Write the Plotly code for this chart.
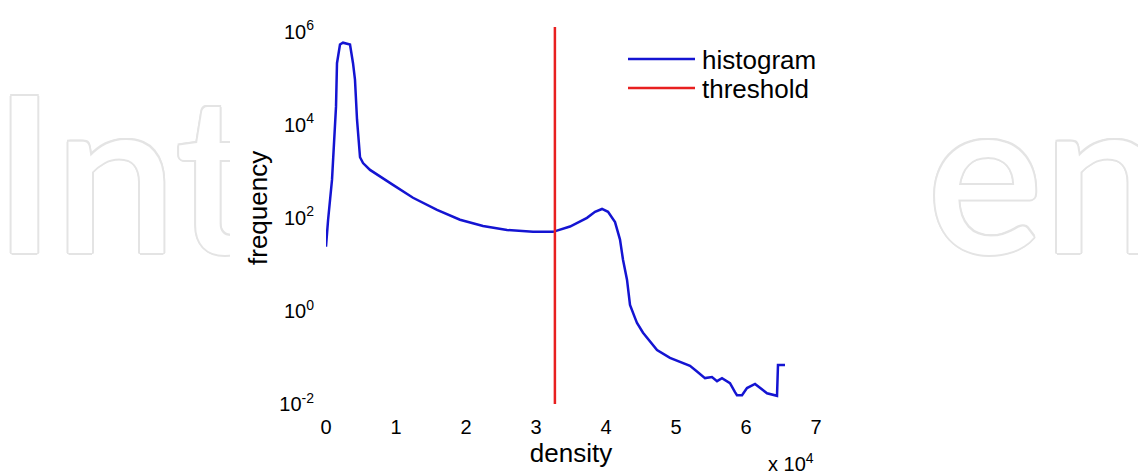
import plotly.graph_objects as go

# ---- data (density in units of 10^4) ----
density_x1e4 = [0.0, 0.03, 0.086, 0.114, 0.143, 0.157, 0.20, 0.243, 0.343, 0.386,
                0.414, 0.443, 0.486, 0.529, 0.629, 0.957, 1.243, 1.586, 1.914, 2.243,
                2.586, 2.957, 3.243, 3.486, 3.729, 3.843, 3.943, 4.029, 4.129, 4.2,
                4.243, 4.3, 4.343, 4.414, 4.443, 4.529, 4.729, 4.914, 5.1, 5.2,
                5.3, 5.414, 5.514, 5.586, 5.657, 5.771, 5.843, 5.871, 5.943, 6.014,
                6.129, 6.2, 6.3, 6.443, 6.457, 6.557]
frequency = [24, 91, 660, 4800, 24500, 2.1e5, 5.3e5, 5.8e5, 5.3e5, 2.1e5,
             9.3e4, 1.3e4, 2000, 1500, 1070, 510, 270, 148, 91, 67,
             55, 50, 50, 65, 100, 135, 155, 135, 81, 34,
             12.6, 4.7, 1.35, 0.71, 0.55, 0.34, 0.145, 0.098, 0.076, 0.066,
             0.05, 0.036, 0.038, 0.031, 0.036, 0.028, 0.018, 0.0155, 0.0155, 0.022,
             0.027, 0.022, 0.017, 0.015, 0.069, 0.069]
threshold_x1e4 = 3.27
threshold_y = [1e-2, 10 ** 6.1]

x_ticks = [0, 1, 2, 3, 4, 5, 6, 7]
y_ticks = [1e-2, 1e0, 1e2, 1e4, 1e6]
y_ticktext = ["10<sup>-2</sup>", "10<sup>0</sup>", "10<sup>2</sup>", "10<sup>4</sup>", "10<sup>6</sup>"]

watermark_left = "Int"
watermark_right = "en"

BLUE = "#1414d2"
RED = "#e82020"
FONT = "Liberation Sans, Arial, sans-serif"

W, H = 1138, 471
PLOT_L, PLOT_R, PLOT_T, PLOT_B = 326, 816, 27, 404
X_RANGE = [0, 7]
Y_RANGE = [-2, 6.1]
WM_LEFT_END = 230
WM_RIGHT_START = 925


def fx(pix):
    return pix / W


def fy(pix):
    return (H - pix) / H


fig = go.Figure()

# background watermark fragments on hidden, clipped subplots (drawn first, beneath the chart)
wm_shadow = ("2px 0 0 #e4e4e4, -2px 0 0 #e4e4e4, 0 2px 0 #e4e4e4, 0 -2px 0 #e4e4e4, "
             "1.5px 1.5px 0 #e4e4e4, -1.5px -1.5px 0 #e4e4e4, 1.5px -1.5px 0 #e4e4e4, -1.5px 1.5px 0 #e4e4e4")
wm_font = dict(family="Lato", size=218, color="white", weight=600, shadow=wm_shadow)
fig.add_trace(go.Scatter(
    x=[-7], y=[198], xaxis="x", yaxis="y",
    mode="text", text=[watermark_left], textposition="middle right", textfont=wm_font,
    cliponaxis=True, hoverinfo="skip", showlegend=False))
fig.add_trace(go.Scatter(
    x=[927], y=[198], xaxis="x2", yaxis="y2",
    mode="text", text=[watermark_right], textposition="middle right", textfont=wm_font,
    cliponaxis=True, hoverinfo="skip", showlegend=False))

fig.add_trace(go.Scatter(x=density_x1e4, y=frequency, mode="lines", xaxis="x3", yaxis="y3",
                         line=dict(color=BLUE, width=2.5), name="histogram",
                         showlegend=False))
fig.add_trace(go.Scatter(x=[threshold_x1e4, threshold_x1e4], y=threshold_y, mode="lines",
                         xaxis="x3", yaxis="y3",
                         line=dict(color=RED, width=2.5), name="threshold",
                         showlegend=False))

shapes = [
    dict(type="line", xref="paper", yref="paper", x0=fx(628), x1=fx(695), y0=fy(59), y1=fy(59),
         line=dict(color=BLUE, width=2.5)),
    dict(type="line", xref="paper", yref="paper", x0=fx(628), x1=fx(695), y0=fy(88), y1=fy(88),
         line=dict(color=RED, width=2.5)),
]

annotations = [
    dict(text="histogram", xref="paper", yref="paper", x=fx(700), y=fy(60), xanchor="left", yanchor="middle",
         showarrow=False, font=dict(family=FONT, size=26, color="black")),
    dict(text="threshold", xref="paper", yref="paper", x=fx(700), y=fy(89), xanchor="left", yanchor="middle",
         showarrow=False, font=dict(family=FONT, size=26, color="black")),
    dict(text="x 10<sup>4</sup>", xref="paper", yref="paper", x=fx(766), y=fy(462), xanchor="left", yanchor="middle",
         showarrow=False, font=dict(family=FONT, size=20, color="black")),
    dict(text="frequency", xref="paper", yref="paper", x=fx(258), y=fy(208), xanchor="center", yanchor="middle",
         textangle=-90, showarrow=False, font=dict(family=FONT, size=26, color="black")),
]

hidden = dict(visible=False, fixedrange=True, automargin=False)

fig.update_layout(
    width=W, height=H,
    margin=dict(l=0, r=0, t=0, b=0, pad=0, autoexpand=False),
    paper_bgcolor="white", plot_bgcolor="rgba(0,0,0,0)",
    font=dict(family=FONT, color="black"),
    shapes=shapes, annotations=annotations,
    xaxis=dict(domain=[0, fx(WM_LEFT_END)], range=[0, WM_LEFT_END], anchor="y", **hidden),
    yaxis=dict(domain=[0, 1], range=[H, 0], anchor="x", **hidden),
    xaxis2=dict(domain=[fx(WM_RIGHT_START), 1], range=[WM_RIGHT_START, W], anchor="y2", **hidden),
    yaxis2=dict(domain=[0, 1], range=[H, 0], anchor="x2", **hidden),
    xaxis3=dict(domain=[fx(PLOT_L), fx(PLOT_R)], anchor="y3", range=X_RANGE, automargin=False,
                tickvals=x_ticks, ticktext=[str(t) for t in x_ticks],
                showgrid=False, zeroline=False, showline=False, ticks="",
                tickfont=dict(size=20), ticklabelstandoff=9,
                title=dict(text="density", font=dict(size=26), standoff=2)),
    yaxis3=dict(domain=[fy(PLOT_B), fy(PLOT_T)], anchor="x3", type="log", range=Y_RANGE,
                automargin=False,
                tickvals=y_ticks, ticktext=y_ticktext,
                showgrid=False, zeroline=False, showline=False, ticks="",
                tickfont=dict(size=20), ticklabelstandoff=11),
)

fig.write_html("out.html")
